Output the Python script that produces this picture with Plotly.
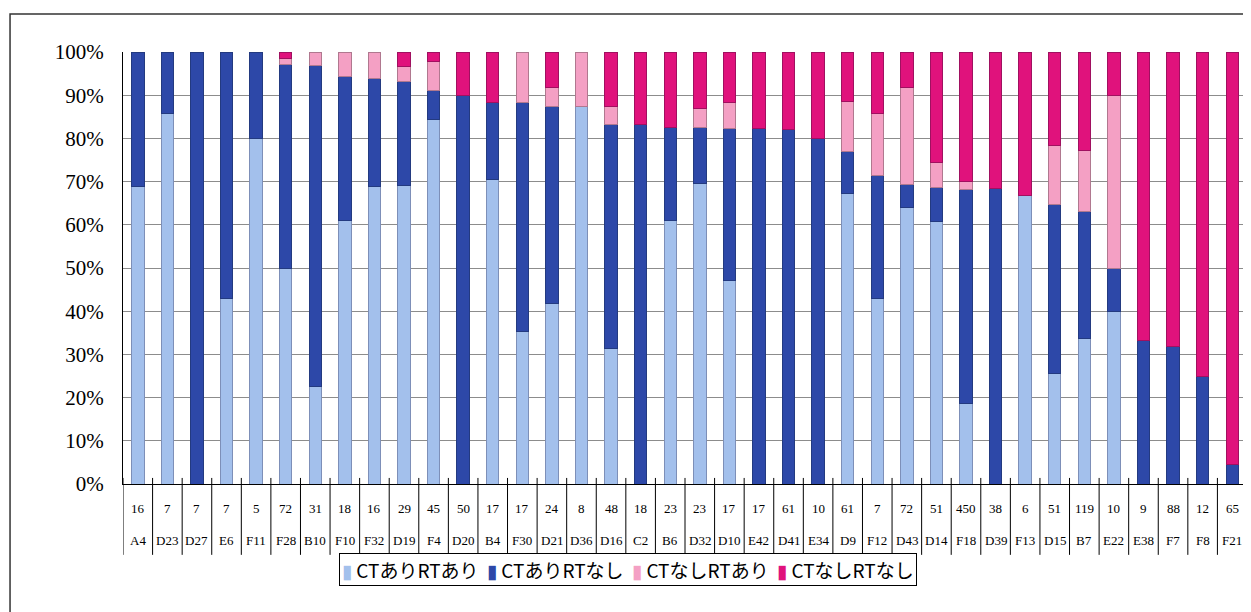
import plotly.graph_objects as go

# site labels and patient counts (x-axis table)
sites = ["A4", "D23", "D27", "E6", "F11", "F28", "B10", "F10", "F32", "D19",
         "F4", "D20", "B4", "F30", "D21", "D36", "D16", "C2", "B6", "D32",
         "D10", "E42", "D41", "E34", "D9", "F12", "D43", "D14", "F18", "D39",
         "F13", "D15", "B7", "E22", "E38", "F7", "F8", "F21"]
counts = [16, 7, 7, 7, 5, 72, 31, 18, 16, 29,
          45, 50, 17, 17, 24, 8, 48, 18, 23, 23,
          17, 17, 61, 10, 61, 7, 72, 51, 450, 38,
          6, 51, 119, 10, 9, 88, 12, 65]

# shares in percent
ct_rt = [68.8, 85.7, 0, 42.9, 80.0, 50.0, 22.6, 61.1, 68.8, 69.0,
         84.4, 0, 70.6, 35.3, 41.7, 87.5, 31.3, 0, 60.9, 69.6,
         47.1, 0, 0, 0, 67.2, 42.9, 63.9, 60.8, 18.6, 0,
         66.7, 25.5, 33.6, 40.0, 0, 0, 0, 0]
ct_nort = [31.2, 14.3, 100, 57.1, 20.0, 47.2, 74.2, 33.3, 25.0, 24.1,
           6.7, 90.0, 17.6, 52.9, 45.8, 0, 52.0, 83.3, 21.7, 13.0,
           35.3, 82.4, 82.0, 80.0, 9.8, 28.5, 5.5, 7.8, 49.6, 68.4,
           0, 39.2, 29.4, 10.0, 33.3, 31.8, 25.0, 4.6]
noct_rt = [0, 0, 0, 0, 0, 1.4, 3.2, 5.6, 6.2, 3.5,
           6.7, 0, 0, 11.8, 4.2, 12.5, 4.2, 0, 0, 4.4,
           5.8, 0, 0, 0, 11.5, 14.3, 22.3, 5.9, 1.8, 0,
           0, 13.7, 14.3, 40.0, 0, 0, 0, 0]
noct_nort = [0, 0, 0, 0, 0, 1.4, 0, 0, 0, 3.4,
             2.2, 10.0, 11.8, 0, 8.3, 0, 12.5, 16.7, 17.4, 13.0,
             11.8, 17.6, 18.0, 20.0, 11.5, 14.3, 8.3, 25.5, 30.0, 31.6,
             33.3, 21.6, 22.7, 10.0, 66.7, 68.2, 75.0, 95.4]

series = [
    ("CTありRTあり", ct_rt, "#a3c0ec", "#7d8fb8"),
    ("CTありRTなし", ct_nort, "#2d48a8", "#233a80"),
    ("CTなしRTあり", noct_rt, "#f4a0c4", "#b0788f"),
    ("CTなしRTなし", noct_nort, "#e0127c", "#a01060"),
]

idx = list(range(len(sites)))

fig = go.Figure()
for name, vals, col, edge in series:
    # empty segments would still draw their outline, so leave them out
    fig.add_trace(go.Bar(
        x=idx, y=[v if v > 0 else None for v in vals], name=name, width=0.42,
        marker=dict(color=col, line=dict(color=edge, width=1)),
    ))

serif = "Liberation Serif"

# the page puts the plot div 8px in from the corner
fig.update_layout(
    barmode="stack",
    width=1243, height=604,
    margin=dict(l=115, r=4, t=44, b=128),
    plot_bgcolor="white", paper_bgcolor="white",
    showlegend=False,
)

fig.update_xaxes(
    range=[-0.5, len(sites) - 0.5],
    showticklabels=False, ticks="",
    showgrid=False, showline=True, linecolor="black", linewidth=1,
    zeroline=False,
)
fig.update_yaxes(
    range=[0, 100], dtick=10, ticksuffix="%",
    tickfont=dict(family=serif, size=21, color="black"),
    ticklabelstandoff=14,
    showgrid=True, gridcolor="#8c8c8c", gridwidth=1,
    showline=True, linecolor="black", linewidth=1,
    ticks="", zeroline=False,
)

# category table under the axis: counts row, site row, separators
for i in idx:
    fig.add_annotation(x=i, y=-0.056, xref="x", yref="paper", text=str(counts[i]),
                       showarrow=False, yanchor="middle",
                       font=dict(family=serif, size=13, color="black"))
    fig.add_annotation(x=i, y=-0.13, xref="x", yref="paper", text=sites[i],
                       showarrow=False, yanchor="middle",
                       font=dict(family=serif, size=13, color="black"))
for i in range(len(sites) + 1):
    fig.add_shape(type="line", xref="x", yref="paper",
                  x0=i - 0.5, x1=i - 0.5, y0=0.014, y1=-0.164,
                  line=dict(color="black", width=1))

# legend drawn as one boxed line of text
legend_text = "  ".join(
    f"<span style='color:{col}'>▮</span> {name}" for name, _, col, _ in series
)
fig.add_annotation(x=0.449, y=-0.197, xref="paper", yref="paper",
                   text=legend_text, showarrow=False,
                   xanchor="center", yanchor="middle",
                   font=dict(family="Noto Sans CJK JP", size=19, color="black"),
                   bordercolor="black", borderwidth=1, borderpad=2, bgcolor="white")

# outer chart frame
fig.add_shape(type="rect", xref="paper", yref="paper",
              x0=-0.1005, x1=1.03, y0=1.088, y1=-0.35,
              line=dict(color="#333333", width=1.5), layer="below")

fig.write_html("out.html")
